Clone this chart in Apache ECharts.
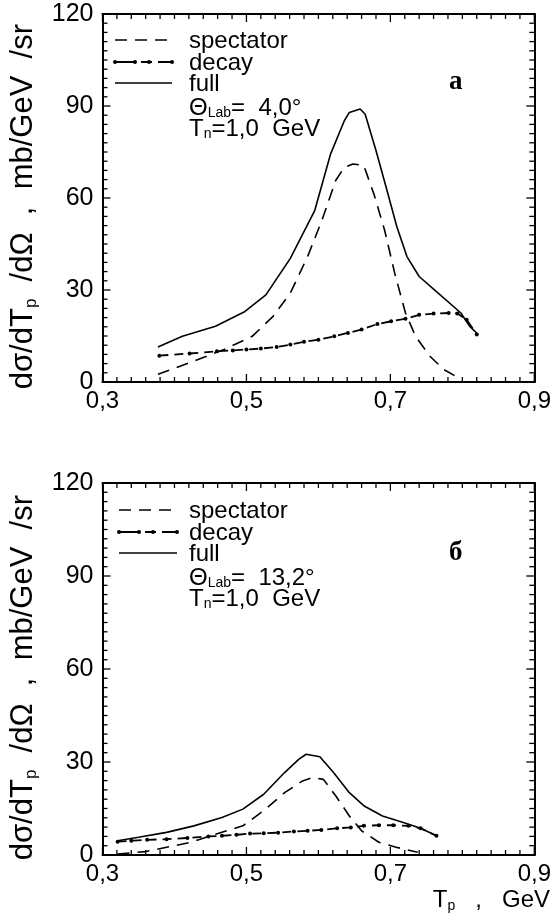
<!DOCTYPE html>
<html><head><meta charset="utf-8">
<script src="https://cdn.jsdelivr.net/npm/echarts@6/dist/echarts.min.js"></script>
<style>html,body{margin:0;padding:0;background:#fff}#c{width:554px;height:915px}</style>
</head><body><div id="c"></div>
<script>
// ---- data ----
const xTicks = [0.3, 0.5, 0.7, 0.9];
const yTicks = [0, 30, 60, 90, 120];
const topSpectator = [[0.377,2.5],[0.421,6.3],[0.469,10.6],[0.508,14.9],[0.537,21.4],[0.561,29.0],[0.585,40.9],[0.605,52.8],[0.624,65.7],[0.636,70.0],[0.648,71.1],[0.663,70.6],[0.677,61.4],[0.692,49.5],[0.706,35.5],[0.721,22.5],[0.735,14.9],[0.755,8.4],[0.774,4.1],[0.798,0.9]];
const topDecay = [[0.379,8.6],[0.421,9.3],[0.459,10.0],[0.481,10.3],[0.500,10.6],[0.520,10.9],[0.542,11.4],[0.561,12.2],[0.580,13.1],[0.600,13.8],[0.622,14.9],[0.641,16.0],[0.660,17.1],[0.682,18.9],[0.701,19.8],[0.721,20.6],[0.740,21.9],[0.760,22.3],[0.781,22.5],[0.793,22.3],[0.806,20.3],[0.820,15.5]];
const topFull = [[0.377,11.4],[0.411,14.9],[0.457,18.2],[0.498,23.0],[0.527,28.4],[0.561,40.3],[0.595,56.0],[0.617,74.4],[0.636,85.2],[0.643,87.9],[0.658,89.0],[0.665,87.3],[0.680,75.5],[0.694,63.6],[0.709,50.6],[0.723,40.9],[0.740,34.4],[0.764,29.5],[0.798,22.5],[0.810,18.2],[0.822,15.5]];
const botSpectator = [[0.321,0.3],[0.360,1.1],[0.389,2.5],[0.423,4.1],[0.457,6.7],[0.495,9.4],[0.524,14.3],[0.553,20.1],[0.578,23.9],[0.592,25.0],[0.607,24.4],[0.624,19.1],[0.643,12.6],[0.660,7.8],[0.684,4.1],[0.708,2.5],[0.738,0.9]];
const botDecay = [[0.321,4.3],[0.340,4.6],[0.362,4.9],[0.389,5.1],[0.418,5.5],[0.447,6.0],[0.466,6.2],[0.486,6.5],[0.505,6.9],[0.524,7.0],[0.544,7.2],[0.566,7.6],[0.585,7.8],[0.604,8.1],[0.626,8.6],[0.645,8.9],[0.663,9.4],[0.684,9.6],[0.704,9.6],[0.725,9.4],[0.742,8.6],[0.764,6.2]];
const botFull = [[0.321,4.6],[0.350,5.7],[0.389,7.3],[0.427,9.4],[0.466,12.1],[0.495,14.8],[0.524,19.6],[0.553,26.6],[0.573,30.9],[0.583,32.5],[0.602,31.7],[0.621,26.6],[0.643,20.1],[0.663,15.9],[0.689,12.6],[0.718,10.5],[0.742,8.6],[0.764,6.2]];
const seriesNames = ['spectator', 'decay', 'full'];
const topInfo = ['Θ{s|Lab}=  4,0°', 'T{s|n}=1,0  GeV'];
const botInfo = ['Θ{s|Lab}=  13,2°', 'T{s|n}=1,0  GeV'];
const panelLetters = ['a', 'б'];
const yName = 'dσ/dT{s|p}  /dΩ  ,  mb/GeV  /sr  ';
const xName = 'T{s|p}   ,   GeV';

// ---- chart ----
const FONT = 'Liberation Sans, Arial, sans-serif';
const W = 554;
const chart = echarts.init(document.getElementById('c'), null, {renderer: 'canvas'});
const sub = {s: {fontSize: 14, fontFamily: FONT, color: '#000', verticalAlign: 'bottom', padding: [11, 0, 0, 0]}};
const fmt = v => v.toFixed(1).replace('.', ',');
const X0 = xTicks[0], X1 = xTicks[xTicks.length - 1], Y0 = yTicks[0], Y1 = yTicks[yTicks.length - 1];
const GRIDS = [
  {left: 99, right: 14, top: 14, height: 368},
  {left: 101, right: 10, top: 483, height: 372}
];

function xAx(g, pos) {
  return {
    type: 'value', gridIndex: g, position: pos, min: X0, max: X1, interval: 0.2,
    axisLine: {show: true, onZero: false, lineStyle: {color: '#000', width: 2}},
    axisTick: {show: false}, minorTick: {show: false}, splitLine: {show: false},
    axisLabel: {show: pos === 'bottom', formatter: fmt, fontSize: 24, color: '#000', fontFamily: FONT, margin: 7}
  };
}
function yAx(g, pos) {
  const o = {
    type: 'value', gridIndex: g, position: pos, min: Y0, max: Y1, interval: 30,
    axisLine: {show: true, onZero: false, lineStyle: {color: '#000', width: 2}},
    axisTick: {show: false}, minorTick: {show: false}, splitLine: {show: false},
    axisLabel: {show: pos === 'left', fontSize: 25, color: '#000', fontFamily: FONT, margin: 9}
  };
  if (pos === 'left') {
    o.name = yName; o.nameLocation = 'middle'; o.nameRotate = 90; o.nameGap = 63;
    o.nameTextStyle = {fontSize: 31, color: '#000', fontFamily: FONT, rich: {s: {fontSize: 17, fontFamily: FONT, color: '#000', verticalAlign: 'bottom', padding: [15, 0, 0, 0]}}};
  }
  return o;
}
function mkSeries(name, data, xi, yi) {
  const s = {name: name, type: 'line', data: data, xAxisIndex: xi, yAxisIndex: yi, symbol: 'none', animation: false,
    lineStyle: {color: '#000', width: 1.6}, itemStyle: {color: '#000'}};
  if (name === 'spectator') s.lineStyle.type = [12, 8];
  if (name === 'decay') { s.lineStyle.type = [9, 6]; s.symbol = 'circle'; s.symbolSize = 4; s.lineStyle.width = 1.8; }
  return s;
}
const titleBase = {padding: 0, textStyle: {fontSize: 24, fontWeight: 'normal', color: '#000', fontFamily: FONT, lineHeight: 24, rich: sub}};
function ttl(text, left, top, extra) {
  const t = JSON.parse(JSON.stringify(titleBase));
  t.text = text; t.left = left; t.top = top;
  if (extra) Object.assign(t.textStyle, extra);
  return t;
}
// legend drawn as graphic samples + text
function legendGraphics(x0, x1, rows) {
  const g = [];
  g.push({type: 'line', shape: {x1: x0, y1: rows[0], x2: x1, y2: rows[0]}, style: {stroke: '#000', lineWidth: 1.6, lineDash: [12, 8]}, silent: true});
  g.push({type: 'line', shape: {x1: x0, y1: rows[1], x2: x1, y2: rows[1]}, style: {stroke: '#000', lineWidth: 1.8, lineDash: [20, 6, 11, 6]}, silent: true});
  [x0, x0 + 20, x0 + 34, x1].forEach(cx => g.push({type: 'circle', shape: {cx: cx, cy: rows[1], r: 2}, style: {fill: '#000'}, silent: true}));
  g.push({type: 'line', shape: {x1: x0, y1: rows[2], x2: x1, y2: rows[2]}, style: {stroke: '#000', lineWidth: 1.6}, silent: true});
  return g;
}
const titles = [];
[[29, 51, 72], [499, 521, 542]].forEach(r => seriesNames.forEach((n, i) => titles.push(ttl(n, 189, r[i]))));
const legendG = legendGraphics(115, 172, [40, 62, 83]).concat(legendGraphics(119, 177, [510, 532, 553]));

chart.setOption({
  animation: false,
  backgroundColor: '#fff',
  grid: GRIDS.map(G => ({left: G.left, right: G.right, top: G.top, height: G.height})),
  xAxis: [xAx(0, 'bottom'), xAx(0, 'top'), xAx(1, 'bottom'), xAx(1, 'top')],
  yAxis: [yAx(0, 'left'), yAx(0, 'right'), yAx(1, 'left'), yAx(1, 'right')],
  graphic: legendG,
  title: titles.concat([
    ttl(topInfo[0], 189, 96), ttl(topInfo[1], 189, 117),
    ttl(botInfo[0], 189, 566), ttl(botInfo[1], 189, 587),
    ttl(panelLetters[0], 449, 70, {fontFamily: 'Liberation Serif, serif', fontSize: 27, fontWeight: 'bold'}),
    ttl(panelLetters[1], 449, 541, {fontFamily: 'Liberation Serif, serif', fontSize: 27, fontWeight: 'bold'}),
    {padding: 0, right: 4, top: 888, text: xName, textStyle: {fontSize: 24, fontWeight: 'normal', color: '#000', fontFamily: FONT, rich: sub}}
  ]),
  series: [
    mkSeries('spectator', topSpectator, 0, 0),
    mkSeries('decay', topDecay, 0, 0),
    mkSeries('full', topFull, 0, 0),
    mkSeries('spectator', botSpectator, 2, 2),
    mkSeries('decay', botDecay, 2, 2),
    mkSeries('full', botFull, 2, 2)
  ]
});

// inward tick marks on all four sides (minor every 0.02 / 3, longer at labelled values)
function toPx(isX, gi, v) {
  const G = GRIDS[gi];
  try {
    const finder = isX ? {xAxisIndex: gi * 2} : {yAxisIndex: gi * 2};
    const r = chart.convertToPixel(finder, v);
    const n = Array.isArray(r) ? r[isX ? 0 : 1] : r;
    if (typeof n === 'number' && isFinite(n)) return n;
  } catch (e) {}
  if (isX) return G.left + (v - X0) / (X1 - X0) * (W - G.left - G.right);
  return G.top + G.height - (v - Y0) / (Y1 - Y0) * G.height;
}
const tickG = [];
function tk(x1, y1, x2, y2) {
  tickG.push({type: 'line', silent: true, shape: {x1: x1, y1: y1, x2: x2, y2: y2}, style: {stroke: '#000', lineWidth: 1.3}});
}
[0, 1].forEach(gi => {
  const yb = toPx(false, gi, Y0), yt = toPx(false, gi, Y1);
  const xl = toPx(true, gi, X0), xr = toPx(true, gi, X1);
  for (let i = 0; i <= 30; i++) {
    const px = toPx(true, gi, X0 + i * 0.02);
    const len = (i % 10 === 0) ? 8 : 5;
    tk(px, yb, px, yb - len);
    tk(px, yt, px, yt + len);
  }
  for (let j = 0; j <= 40; j++) {
    const py = toPx(false, gi, j * 3);
    const len = (j % 10 === 0) ? 8 : 5;
    tk(xl, py, xl + len, py);
    tk(xr, py, xr - len, py);
  }
});
// plain merge (graphic elements merge by index: legend items stay, ticks are appended)
chart.setOption({graphic: legendG.concat(tickG)});
</script></body></html>
